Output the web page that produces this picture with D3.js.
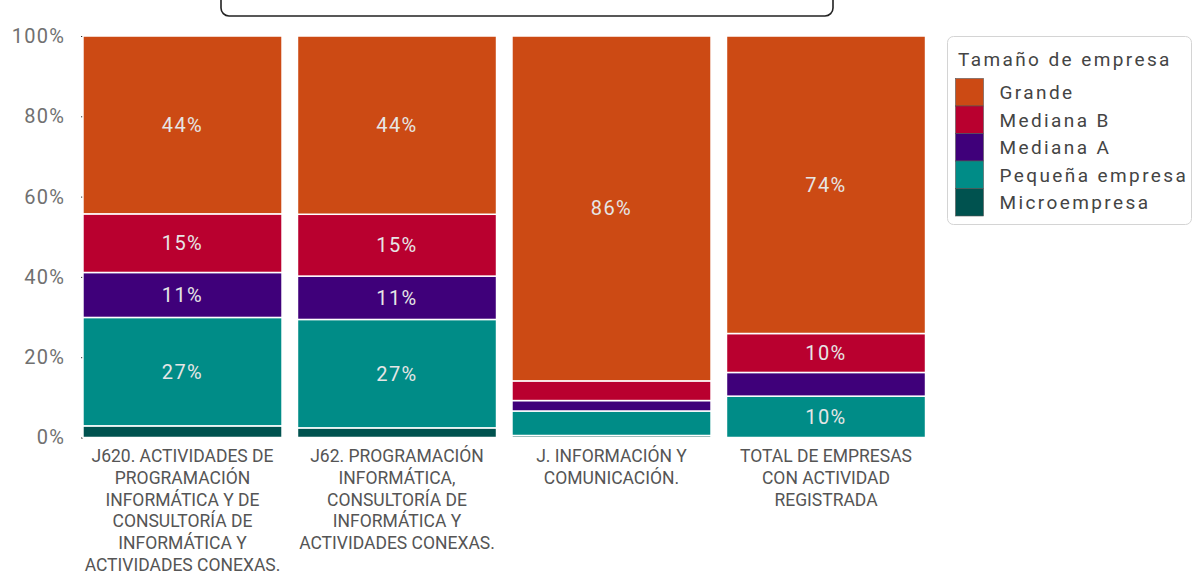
<!DOCTYPE html>
<html>
<head>
<meta charset="utf-8">
<script src="https://cdn.jsdelivr.net/npm/d3@7"></script>
<style>
  html, body { margin: 0; padding: 0; background: #fff; }
  svg { display: block; font-family: Roboto, "Noto Sans", sans-serif; }
</style>
</head>
<body>
<svg id="chart" width="1194" height="577"></svg>
<script>
// Sectors (x axis), each label split into its display lines
const categories = [
  ["J620. ACTIVIDADES DE", "PROGRAMACIÓN", "INFORMÁTICA Y DE", "CONSULTORÍA DE", "INFORMÁTICA Y", "ACTIVIDADES CONEXAS."],
  ["J62. PROGRAMACIÓN", "INFORMÁTICA,", "CONSULTORÍA DE", "INFORMÁTICA Y", "ACTIVIDADES CONEXAS."],
  ["J. INFORMACIÓN Y", "COMUNICACIÓN."],
  ["TOTAL DE EMPRESAS", "CON ACTIVIDAD", "REGISTRADA"]
];

// Company-size groups, stacked bottom to top
const sizeGroups = ["Microempresa", "Pequeña empresa", "Mediana A", "Mediana B", "Grande"];

// Share (%) of each size group per sector
const microempresa   = [2.9, 2.4, 0.5, 0.0];
const pequenaEmpresa = [27.0, 27.0, 6.1, 10.3];
const medianaA       = [11.2, 10.8, 2.6, 5.9];
const medianaB       = [14.6, 15.4, 4.9, 9.7];
const grande         = [44.3, 44.4, 85.9, 74.1];

const yTicks = [0, 20, 40, 60, 80, 100];
const legendTitle = "Tamaño de empresa";
const legendOrder = ["Grande", "Mediana B", "Mediana A", "Pequeña empresa", "Microempresa"];

const colors = {
  "Grande": "#cc4a14",
  "Mediana B": "#b9002f",
  "Mediana A": "#3f007a",
  "Pequeña empresa": "#008c87",
  "Microempresa": "#00524f"
};

const seriesValues = [microempresa, pequenaEmpresa, medianaA, medianaB, grande];
const rows = categories.map((c, i) => {
  const r = { key: i };
  sizeGroups.forEach((g, k) => { r[g] = seriesValues[k][i]; });
  return r;
});

const svg = d3.select("#chart");

const x = d3.scaleBand()
  .domain(d3.range(categories.length))
  .range([75.25, 933.25])
  .paddingInner(0.072)
  .paddingOuter(0.036);

const y = d3.scaleLinear().domain([0, 100]).range([437.5, 36]);

// Partial rounded frame at the top
svg.append("rect")
  .attr("x", 221).attr("y", -30)
  .attr("width", 612).attr("height", 46)
  .attr("rx", 8)
  .attr("fill", "none")
  .attr("stroke", "#222")
  .attr("stroke-width", 1.6);

// Y axis
const yAxis = svg.append("g")
  .attr("transform", "translate(83,0)")
  .call(d3.axisLeft(y).tickValues(yTicks).tickSize(2).tickPadding(16).tickFormat(d => d + "%"));
yAxis.select(".domain").remove();
yAxis.selectAll(".tick line").attr("stroke", "#333");
yAxis.selectAll(".tick text")
  .attr("fill", "#707070")
  .attr("font-size", 20)
  .attr("letter-spacing", 1.2)
  .attr("font-family", "Roboto, sans-serif");

// Stacked bars
const stack = d3.stack().keys(sizeGroups)(rows);

const layers = svg.append("g").selectAll("g")
  .data(stack)
  .join("g")
  .attr("fill", d => colors[d.key]);

layers.selectAll("rect")
  .data(d => d.map(p => ({ p, key: d.key })))
  .join("rect")
  .attr("x", d => x(d.p.data.key))
  .attr("width", x.bandwidth())
  .attr("y", d => y(d.p[1]))
  .attr("height", d => Math.max(0, y(d.p[0]) - y(d.p[1])))
  .attr("stroke", "#fff")
  .attr("stroke-width", 1.5);

// Value labels on the larger segments
const labelData = [];
stack.forEach(layer => {
  layer.forEach(p => {
    const v = p[1] - p[0];
    if (v >= 7) labelData.push({ p, v });
  });
});
svg.append("g").selectAll("text")
  .data(labelData)
  .join("text")
  .attr("x", d => x(d.p.data.key) + x.bandwidth() / 2)
  .attr("y", d => (y(d.p[0]) + y(d.p[1])) / 2)
  .attr("dy", "0.35em")
  .attr("text-anchor", "middle")
  .attr("fill", "#e6e6e6")
  .attr("font-size", 20)
  .attr("letter-spacing", 1.4)
  .text(d => Math.round(d.v) + "%");

// X axis labels
const xLabels = svg.append("g").selectAll("text")
  .data(categories)
  .join("text")
  .attr("text-anchor", "middle")
  .attr("fill", "#555")
  .attr("font-size", 17.5)
  .attr("x", (d, i) => x(i) + x.bandwidth() / 2)
  .attr("y", 456)
  .attr("dy", "0.35em");
xLabels.selectAll("tspan")
  .data(d => d)
  .join("tspan")
  .attr("x", function () { return d3.select(this.parentNode).attr("x"); })
  .attr("dy", (d, j) => j === 0 ? "0.35em" : 21.7)
  .text(d => d);

// Legend
const legend = svg.append("g");
legend.append("rect")
  .attr("x", 947.5).attr("y", 36.5)
  .attr("width", 244).attr("height", 188)
  .attr("rx", 6)
  .attr("fill", "#fff")
  .attr("stroke", "#d4d4d4");
legend.append("text")
  .attr("x", 958).attr("y", 59)
  .attr("dy", "0.35em")
  .attr("fill", "#444")
  .attr("font-size", 19)
  .attr("letter-spacing", 2.4)
  .text(legendTitle);
const items = legend.selectAll("g.item")
  .data(legendOrder)
  .join("g")
  .attr("class", "item")
  .attr("transform", (d, i) => `translate(955.5,${78.5 + i * 27.5})`);
items.append("rect")
  .attr("width", 28).attr("height", 27.5)
  .attr("fill", d => colors[d])
  .attr("stroke", "#555")
  .attr("stroke-width", 0.6);
items.append("text")
  .attr("x", 44).attr("y", 14)
  .attr("dy", "0.35em")
  .attr("fill", "#444")
  .attr("font-size", 19)
  .attr("letter-spacing", 2.4)
  .text(d => d);
</script>
</body>
</html>
